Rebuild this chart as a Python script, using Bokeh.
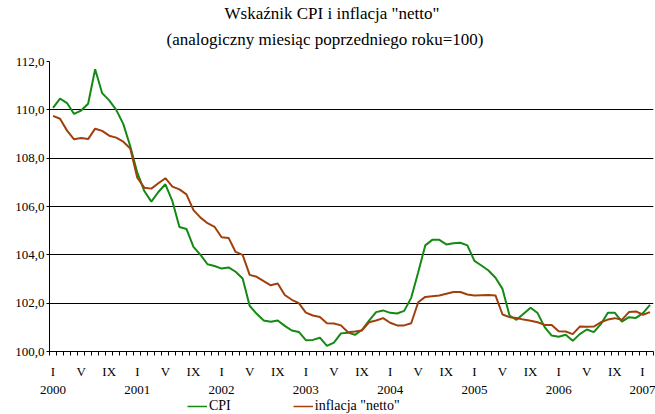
from bokeh.plotting import figure
from bokeh.models import (Range1d, FixedTicker, Legend, LegendItem, Title)
from bokeh.layouts import column
from bokeh.embed import file_html
from bokeh.resources import INLINE

# ---- data (monthly, Jan 2000 .. Feb 2007) ----
cpi = [110.08, 110.46, 110.28, 109.83, 109.97, 110.25, 111.68, 110.69, 110.39, 110.00,
       109.42, 108.49, 107.40, 106.64, 106.20, 106.60, 106.92, 106.22, 105.15, 105.07,
       104.33, 104.00, 103.61, 103.54, 103.43, 103.48, 103.30, 103.02, 101.89, 101.56,
       101.28, 101.23, 101.28, 101.06, 100.87, 100.81, 100.47, 100.48, 100.57, 100.23,
       100.37, 100.75, 100.78, 100.69, 100.90, 101.28, 101.63, 101.70, 101.60, 101.57,
       101.68, 102.22, 103.28, 104.39, 104.62, 104.62, 104.43, 104.48, 104.50, 104.39,
       103.75, 103.56, 103.35, 103.05, 102.59, 101.49, 101.31, 101.56, 101.81, 101.59,
       101.01, 100.66, 100.61, 100.69, 100.44, 100.72, 100.91, 100.80, 101.13, 101.60,
       101.60, 101.24, 101.42, 101.39, 101.59, 101.93]
netto = [109.75, 109.63, 109.14, 108.78, 108.83, 108.79, 109.22, 109.13, 108.93, 108.85,
         108.68, 108.40, 107.19, 106.78, 106.74, 106.96, 107.17, 106.82, 106.71, 106.50,
         105.85, 105.54, 105.31, 105.16, 104.73, 104.70, 104.12, 104.00, 103.17, 103.09,
         102.91, 102.74, 102.81, 102.34, 102.14, 102.00, 101.61, 101.49, 101.43, 101.17,
         101.16, 101.08, 100.80, 100.83, 100.87, 101.21, 101.28, 101.38, 101.19, 101.08,
         101.08, 101.17, 102.04, 102.26, 102.29, 102.32, 102.39, 102.46, 102.46, 102.36,
         102.32, 102.33, 102.34, 102.32, 101.53, 101.42, 101.39, 101.32, 101.27, 101.21,
         101.10, 101.10, 100.84, 100.83, 100.72, 101.03, 101.02, 101.03, 101.21, 101.32,
         101.38, 101.31, 101.63, 101.66, 101.52, 101.63]
years = ["2000", "2001", "2002", "2003", "2004", "2005", "2006", "2007"]
month_marks = ["I", "V", "IX"]
y_ticks = [100, 102, 104, 106, 108, 110, 112]
y_labels = ["100,0", "102,0", "104,0", "106,0", "108,0", "110,0", "112,0"]
title_text = 'Wskaźnik CPI i inflacja "netto"'
subtitle_text = "(analogiczny miesiąc poprzedniego roku=100)"
series_names = ["CPI", 'inflacja "netto"']
colors = ["#138a13", "#a0400c"]

n = len(cpi)
x = list(range(n))
FONT = "Liberation Serif"

p = figure(width=655, height=399, output_backend="svg", toolbar_location=None,
           x_range=Range1d(-0.5, n - 0.5), y_range=Range1d(100, 112),
           min_border_left=49, min_border_right=2, min_border_top=0, min_border_bottom=44)
p.outline_line_color = None
p.background_fill_color = "white"

# spacer between frame and subtitle, then subtitle and title
spacer = Title(text=" ", text_font=FONT, text_font_size="1px", standoff=5)
p.add_layout(spacer, "above")
sub = Title(text=subtitle_text, text_font=FONT, text_font_size="17px", text_font_style="normal",
            align="left", offset=117, standoff=9, text_color="black")
p.add_layout(sub, "above")
ttl = Title(text=title_text, text_font=FONT, text_font_size="17px", text_font_style="normal",
            align="left", offset=175, standoff=2, text_color="black")
p.add_layout(ttl, "above")

# lines
p.line(x, cpi, line_color=colors[0], line_width=2)
p.line(x, netto, line_color=colors[1], line_width=2)

# y axis & grid
p.yaxis.ticker = FixedTicker(ticks=y_ticks)
p.yaxis.major_label_overrides = {t: l for t, l in zip(y_ticks, y_labels)}
p.yaxis.major_tick_out = 3
p.yaxis.major_tick_in = 0
p.yaxis.minor_tick_line_color = None
p.yaxis.major_label_standoff = 2
p.yaxis.axis_line_color = "black"
p.yaxis.major_tick_line_color = "black"
p.yaxis.major_label_text_font = FONT
p.yaxis.major_label_text_font_size = "13px"
p.yaxis.major_label_text_color = "black"
p.ygrid.ticker = FixedTicker(ticks=y_ticks[1:])
p.ygrid.grid_line_color = "black"
p.ygrid.grid_line_width = 1
p.xgrid.grid_line_color = None

# x axis: month marks (with year below January) and boundary ticks
mark_pos = [i for i in range(n) if i % 4 == 0]
mark_lab = {}
for i in mark_pos:
    lab = month_marks[(i % 12) // 4]
    if i % 12 == 0:
        lab = lab + "\n" + years[i // 12]
    mark_lab[i] = lab
bounds = [i - 0.5 for i in range(n + 1)]
p.xaxis.ticker = FixedTicker(ticks=mark_pos, minor_ticks=bounds)
p.xaxis.major_label_overrides = mark_lab
p.xaxis.major_tick_out = 0
p.xaxis.major_tick_in = 0
p.xaxis.major_tick_line_color = None
p.xaxis.minor_tick_out = 4
p.xaxis.minor_tick_in = 0
p.xaxis.minor_tick_line_color = "black"
p.xaxis.axis_line_color = "black"
p.xaxis.major_label_standoff = 8
p.xaxis.major_label_text_font = FONT
p.xaxis.major_label_text_font_size = "13px"
p.xaxis.major_label_text_color = "black"
p.xaxis.major_label_text_line_height = 1.2

# legend strip below
pl = figure(width=655, height=15, output_backend="svg", toolbar_location=None,
            x_range=Range1d(0, 1), y_range=Range1d(0, 1),
            min_border_left=0, min_border_right=0, min_border_top=0, min_border_bottom=0)
pl.axis.visible = False
pl.grid.visible = False
pl.outline_line_color = None
l1 = pl.line(x, cpi, line_color=colors[0], line_width=1.5)
l2 = pl.line(x, netto, line_color=colors[1], line_width=1.5)
legend = Legend(items=[LegendItem(label=series_names[0], renderers=[l1]),
                       LegendItem(label=series_names[1], renderers=[l2])],
                orientation="horizontal", location=(138, 0),
                glyph_width=20, glyph_height=12, label_standoff=2, spacing=62,
                padding=0, margin=0, border_line_color=None, background_fill_alpha=0,
                label_text_font=FONT, label_text_font_size="14px", label_text_color="black",
                label_height=14)
pl.add_layout(legend)

layout = column(p, pl, spacing=0)
open("out.html", "w").write(file_html(layout, INLINE))
